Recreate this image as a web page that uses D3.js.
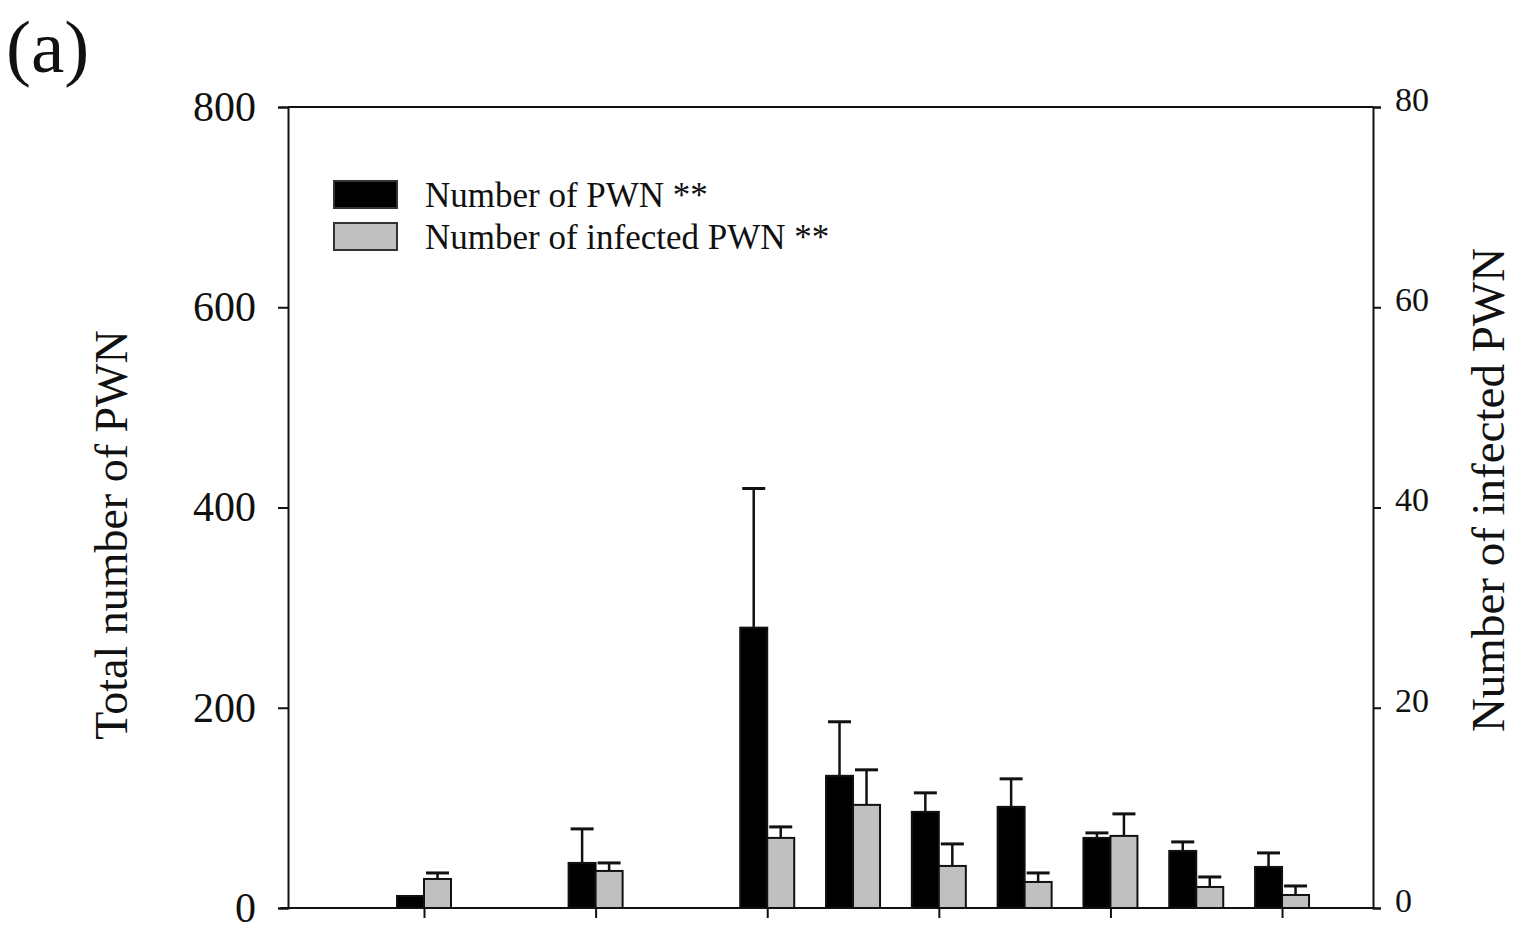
<!DOCTYPE html>
<html>
<head>
<meta charset="utf-8">
<script src="https://cdn.jsdelivr.net/npm/d3@7"></script>
<style>
  body { margin: 0; background: #fff; }
  text { font-family: "Liberation Serif", "Times New Roman", serif; fill: #111; }
</style>
</head>
<body>
<div id="chart"></div>
<script>
// sampling positions (tick every 2 units, no labels)
let positions = [0, 2, 4, 5, 6, 7, 8, 9, 10];
let xTicks = [0, 2, 4, 6, 8, 10];
let totalPWN = [12, 45, 280, 132, 96, 101, 70, 57, 41];
let totalErr = [0, 34, 139, 54, 19, 28, 5, 9, 14];
let infectedPWN = [2.9, 3.7, 7.0, 10.3, 4.2, 2.6, 7.2, 2.1, 1.3];
let infectedErr = [0.6, 0.8, 1.1, 3.5, 2.2, 0.9, 2.2, 1.0, 0.9];
let leftTicks = [0, 200, 400, 600, 800];
let rightTicks = [0, 20, 40, 60, 80];
let seriesNames = ["Number of PWN **", "Number of infected PWN **"];

let data = positions.map(function(p, i) {
    return {pos: p, total: totalPWN[i], totalErr: totalErr[i], infected: infectedPWN[i], infectedErr: infectedErr[i]};
});

let margin = {"top": 107, "left": 288, "right": 151, "bottom": 26};
let width = 1524 - margin.left - margin.right;
let height = 934 - margin.top - margin.bottom;

let svg = d3.select("#chart").append("svg")
    .attr("width", 1524)
    .attr("height", 934);

let g = svg.append("g")
    .attr("transform", "translate(" + margin.left + "," + margin.top + ")");

let x = d3.scaleLinear()
    .domain([-1.585, 11.06])
    .range([0, width]);
let yLeft = d3.scaleLinear()
    .domain([0, 800])
    .range([height, 0]);
let yRight = d3.scaleLinear()
    .domain([0, 80])
    .range([height, 0]);

let barW = 27;

// frame top line
g.append("line")
    .attr("x1", 0).attr("x2", width)
    .attr("y1", 0).attr("y2", 0)
    .attr("stroke", "#111").attr("stroke-width", 2);

// axes
let leftAxis = g.append("g")
    .call(d3.axisLeft(yLeft).tickValues(leftTicks).tickSize(10).tickPadding(22));
let rightAxis = g.append("g")
    .attr("transform", "translate(" + width + ",0)")
    .call(d3.axisRight(yRight).tickValues(rightTicks).tickSize(8).tickPadding(14));
let bottomAxis = g.append("g")
    .attr("transform", "translate(0," + height + ")")
    .call(d3.axisBottom(x).tickValues(xTicks).tickSize(10).tickFormat(""));

[leftAxis, rightAxis, bottomAxis].forEach(function(a) {
    a.select(".domain").attr("stroke", "#111").attr("stroke-width", 2);
    a.selectAll(".tick line").attr("stroke", "#111").attr("stroke-width", 2);
    a.selectAll("text").attr("font-family", "Liberation Serif").attr("fill", "#222");
});
leftAxis.selectAll("text").attr("font-size", 42).attr("dy", "0.32em");
rightAxis.selectAll("text").attr("font-size", 34).attr("dy", "0.1em");
bottomAxis.select(".domain").attr("d", "M-8,0H" + (width + 2));

// error bars (drawn before bars so the stem hides inside)
function errorBar(sel, xc, yTop, yVal, cap) {
    sel.append("line")
        .attr("x1", xc).attr("x2", xc)
        .attr("y1", yTop).attr("y2", yVal)
        .attr("stroke", "#111").attr("stroke-width", 2.5);
    sel.append("line")
        .attr("x1", xc - cap / 2).attr("x2", xc + cap / 2)
        .attr("y1", yTop).attr("y2", yTop)
        .attr("stroke", "#111").attr("stroke-width", 3);
}

let groups = g.selectAll("g.group")
    .data(data)
    .enter()
    .append("g")
    .attr("class", "group");

groups.each(function(d) {
    let sel = d3.select(this);
    let xc = x(d.pos);
    if (d.totalErr > 0) {
        errorBar(sel, xc - barW / 2, yLeft(d.total + d.totalErr), yLeft(d.total), 23);
    }
    if (d.infectedErr > 0) {
        errorBar(sel, xc + barW / 2, yRight(d.infected + d.infectedErr), yRight(d.infected), 23);
    }
    sel.append("rect")
        .attr("x", xc - barW)
        .attr("y", yLeft(d.total))
        .attr("width", barW)
        .attr("height", height - yLeft(d.total))
        .attr("fill", "#000")
        .attr("stroke", "#111")
        .attr("stroke-width", 2);
    sel.append("rect")
        .attr("x", xc)
        .attr("y", yRight(d.infected))
        .attr("width", barW)
        .attr("height", height - yRight(d.infected))
        .attr("fill", "#c0c0c0")
        .attr("stroke", "#111")
        .attr("stroke-width", 2);
});

// axis titles
svg.append("text")
    .attr("transform", "translate(127,535) rotate(-90)")
    .attr("text-anchor", "middle")
    .attr("font-size", 46)
    .text("Total number of PWN");
svg.append("text")
    .attr("transform", "translate(1504,490) rotate(-90)")
    .attr("text-anchor", "middle")
    .attr("font-size", 47)
    .text("Number of infected PWN");

// panel label
svg.append("text")
    .attr("x", 6)
    .attr("y", 72)
    .attr("font-size", 75)
    .text("(a)");

// legend
let legend = svg.append("g").attr("transform", "translate(334,181)");
let swatchFill = ["#000", "#c0c0c0"];
seriesNames.forEach(function(name, i) {
    legend.append("rect")
        .attr("x", 0)
        .attr("y", i * 42)
        .attr("width", 63)
        .attr("height", 27)
        .attr("fill", swatchFill[i])
        .attr("stroke", "#333")
        .attr("stroke-width", 2);
    legend.append("text")
        .attr("x", 91)
        .attr("y", i * 42 + 14)
        .attr("dy", "0.35em")
        .attr("font-size", 35)
        .text(name);
});
</script>
</body>
</html>
